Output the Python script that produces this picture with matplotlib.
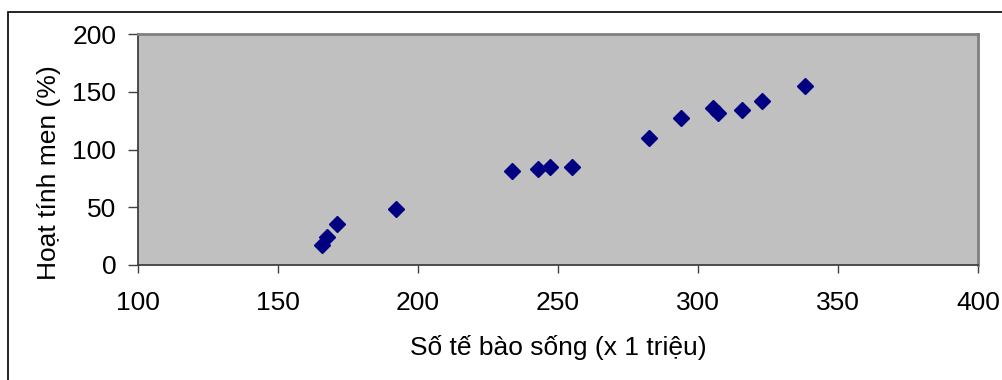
import matplotlib.pyplot as plt
from matplotlib.patches import Rectangle

plt.rcParams['font.family'] = ['Liberation Sans', 'DejaVu Sans']

# số tế bào sống (triệu) và hoạt tính men (%)
so_te_bao = [165.8, 167.4, 171.2, 192.2, 233.5, 242.8, 247.3, 254.9,
             282.4, 294.0, 305.5, 307.3, 315.8, 322.9, 338.2]
hoat_tinh = [17.3, 24.0, 35.2, 48.5, 81.4, 83.1, 84.8, 84.8,
             109.7, 127.5, 136.2, 131.3, 133.9, 141.7, 154.7]

x_ticks = [100, 150, 200, 250, 300, 350, 400]
y_ticks = [0, 50, 100, 150, 200]

fig = plt.figure(figsize=(10.03, 3.8), dpi=100)
ax = fig.add_axes([138 / 1003, 1 - 265 / 380, 840 / 1003, 231 / 380])
ax.set_facecolor('#c0c0c0')

ax.plot(so_te_bao, hoat_tinh, linestyle='none', marker='D', markersize=8,
        color='#000080', markeredgecolor='#000080', markeredgewidth=1)

ax.set_xlim(100, 400)
ax.set_ylim(0, 200)
ax.set_xticks(x_ticks)
ax.set_yticks(y_ticks)
ax.tick_params(axis='x', labelsize=19, length=5.8, width=1, color='#404040', pad=13)
ax.tick_params(axis='y', labelsize=19, length=7.2, width=1, color='#404040', pad=8.5)

for side in ['top', 'right']:
    ax.spines[side].set_color('#808080')
    ax.spines[side].set_linewidth(2)
for side in ['left', 'bottom']:
    ax.spines[side].set_color('#404040')
    ax.spines[side].set_linewidth(1.3)

ax.set_xlabel('Số tế bào sống (x 1 triệu)', fontsize=19)
ax.set_ylabel('Hoạt tính men (%)', fontsize=19)
ax.xaxis.set_label_coords(0.5, -0.305)
ax.yaxis.set_label_coords(-0.092, 0.40)

# khung viền ngoài của biểu đồ
fig.patches.append(Rectangle((8 / 1003, -0.1), 1.1, 1 - 12 / 380 + 0.1,
                             transform=fig.transFigure, fill=False,
                             edgecolor='black', linewidth=1.2))

fig.savefig('out.png', dpi=100)
